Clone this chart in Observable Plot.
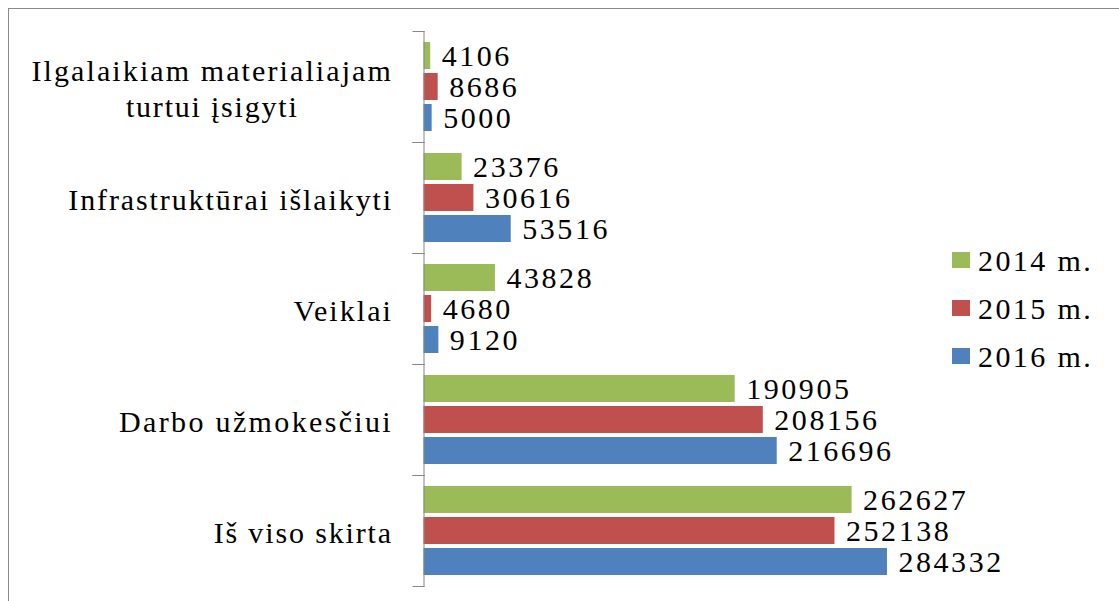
<!DOCTYPE html>
<html><head><meta charset="utf-8">
<script src="https://cdn.jsdelivr.net/npm/d3@7"></script>
<script src="https://cdn.jsdelivr.net/npm/@observablehq/plot@0.6"></script>
<style>
html,body{margin:0;padding:0;background:#fff;}
#wrap{position:relative;width:1119px;height:601px;overflow:hidden;background:#fff;}
#frame{position:absolute;left:8px;top:8px;right:-10px;bottom:-10px;border-left:1px solid #8a8a8a;border-top:1px solid #8a8a8a;pointer-events:none;}
#wrap svg{position:absolute;left:0;top:0;}
</style>
</head><body>
<div id="wrap"><div id="frame"></div></div>
<script>
const categories = ["Ilgalaikiam materialiajam\nturtui įsigyti", "Infrastruktūrai išlaikyti", "Veiklai", "Darbo užmokesčiui", "Iš viso skirta"];
const years = ["2014 m.", "2015 m.", "2016 m."];
const v2014 = [4106, 23376, 43828, 190905, 262627];
const v2015 = [8686, 30616, 4680, 208156, 252138];
const v2016 = [5000, 53516, 9120, 216696, 284332];
const colors = ["#9BBB59", "#C0504D", "#4F81BD"];
const xDomain = [0, 300000];

const series = [v2014, v2015, v2016];
const rows = categories.flatMap((c, i) => years.map((y, j) => ({category: c, year: y, value: series[j][i]})));

const S = 1.17;            // the reference's text is wider than plain Times
const W = 1119;
const left = 423.5, right = 912.5;
const innerW = right - left;
const axisColor = "#868686";
const FONT = "Liberation Serif";

const plot = Plot.plot({
  width: W, height: 601,
  marginLeft: left, marginRight: W - right, marginTop: 30, marginBottom: 15,
  style: {fontFamily: FONT, fontSize: "30px", background: "transparent", color: "#000", overflow: "visible"},
  x: {domain: xDomain, axis: null},
  y: {domain: years, paddingInner: 0.125, paddingOuter: 0.3, axis: null},
  fy: {domain: categories, padding: 0, axis: null},
  color: {domain: years, range: colors},
  marks: [
    Plot.barX(rows, {x: "value", y: "year", fy: "category", fill: "year"}),
    Plot.text(rows, {x: "value", y: "year", fy: "category", text: d => String(d.value), textAnchor: "start", dx: 11, fill: "#000", fontSize: 30, fontFamily: FONT}),
    Plot.text(categories, {fy: d => d, text: d => d, frameAnchor: "left", textAnchor: "end", dx: -31, lineHeight: 1.2, fill: "#000", fontSize: 30, fontFamily: FONT}),
    Plot.frame({anchor: "left", stroke: axisColor}),
    Plot.frame({anchor: "top", stroke: axisColor, insetLeft: -11, insetRight: innerW}),
    Plot.frame({anchor: "bottom", stroke: axisColor, insetLeft: -11, insetRight: innerW})
  ]
});
document.getElementById("wrap").appendChild(plot);

// legend drawn into the same SVG
const lg = d3.select(plot).append("g")
  .attr("font-family", FONT).attr("font-size", 30).attr("fill", "#000").attr("text-anchor", "start");
years.forEach((y, i) => {
  const cy = 260 + i * 48;
  lg.append("rect").attr("x", 952).attr("y", cy - 8).attr("width", 18).attr("height", 16).attr("fill", colors[i]);
  lg.append("text").attr("x", 978).attr("y", cy + 11).attr("text-anchor", "start").text(y);
});

// widen text with letter-spacing to match the reference's wider lettering
function widen(el) {
  const len = el.getComputedTextLength();
  const n = el.textContent.length;
  const ls = n > 1 ? len * (S - 1) / n : 0;
  el.setAttribute("letter-spacing", ls.toFixed(2));
  return len * S;
}
plot.querySelectorAll("text").forEach(t => {
  const spans = t.querySelectorAll("tspan");
  if (spans.length > 1) {
    let maxW = 0;
    spans.forEach(s => { maxW = Math.max(maxW, widen(s)); });
    t.setAttribute("text-anchor", "middle");
    const tr = t.getAttribute("transform") || "";
    t.setAttribute("transform", tr + ` translate(${-maxW / 2},0)`);
  } else {
    widen(t);
  }
});
</script>
</body></html>
